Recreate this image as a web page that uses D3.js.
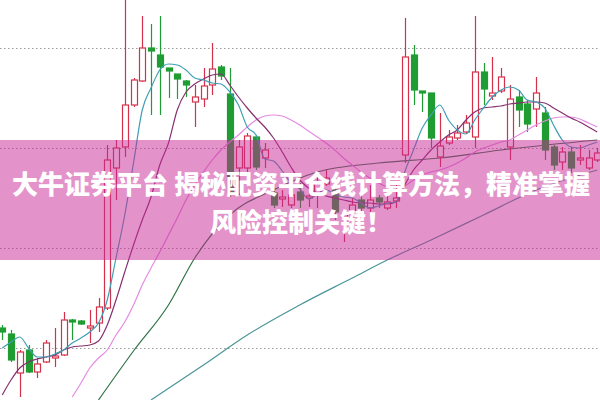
<!DOCTYPE html>
<html><head><meta charset="utf-8">
<script src="https://cdn.jsdelivr.net/npm/d3@7"></script>
<style>html,body{margin:0;padding:0;background:#fff;overflow:hidden}svg{display:block}</style>
</head><body><svg id="c" width="600" height="400"></svg>
<script>
const opens  = [3.20,3.14,2.75,2.98,2.76,2.86,2.90,2.93,3.28,3.27,3.20,3.25,3.40,4.80,5.01,5.43,5.67,6.00,5.93,5.80,5.74,5.67,5.46,5.49,5.63,5.81,5.54,4.80,4.80,5.11,4.90,4.55,4.49,4.43,4.56,4.50,4.53,4.64,4.58,4.31,4.36,4.48,4.40,4.50,4.40,4.47,4.93,5.93,5.57,5.55,4.91,5.05,5.10,5.16,5.11,5.76,5.52,5.57,5.01,5.51,5.44,5.39,5.35,5.01,4.86,4.96,4.88,4.80,4.88];
const closes = [3.16,2.88,2.96,2.76,2.84,3.05,2.92,3.28,3.26,3.24,3.22,3.41,4.88,5.00,5.43,5.68,6.00,5.97,5.81,5.77,5.69,5.63,5.51,5.62,5.79,5.72,4.55,5.01,5.12,4.81,4.98,4.43,4.51,4.53,4.48,4.52,4.65,4.70,4.36,4.34,4.43,4.40,4.48,4.46,4.46,4.50,5.91,5.58,5.55,5.10,5.02,5.11,5.15,5.25,5.76,5.59,5.55,5.71,5.49,5.38,5.24,5.55,4.98,4.83,4.96,4.80,4.90,4.90,4.95];
const highs  = [3.23,3.18,2.98,3.03,2.90,3.08,3.20,3.36,3.29,3.28,3.38,3.50,5.03,5.08,6.60,5.70,6.32,6.24,6.32,5.80,5.74,5.68,5.63,5.80,6.05,5.83,5.80,5.08,5.15,5.13,5.05,4.60,4.58,4.58,4.65,4.55,4.72,4.78,4.63,4.38,4.50,4.53,4.63,4.53,4.55,4.63,6.30,6.03,5.57,5.55,5.35,5.18,5.23,5.33,6.32,5.85,5.91,5.80,5.63,5.58,5.48,5.71,5.41,5.03,5.01,5.01,5.03,4.98,5.00];
const lows   = [3.08,2.86,2.51,2.75,2.70,2.85,2.81,2.92,3.08,3.23,3.05,3.16,3.38,4.48,4.91,5.41,5.66,5.33,5.33,5.50,5.49,5.51,5.21,5.41,5.53,5.68,4.51,4.53,4.76,4.78,4.80,4.40,4.41,4.40,4.40,4.41,4.40,4.62,4.28,4.06,4.30,4.36,4.36,4.40,4.38,4.40,4.85,5.43,5.36,5.00,4.81,5.03,5.08,5.14,5.00,5.43,5.48,5.55,4.88,5.21,5.16,5.21,4.88,4.78,4.78,4.75,4.83,4.78,4.86];

const ma5  = [3.00,3.06,3.11,3.00,2.91,2.91,2.94,2.98,3.05,3.10,3.16,3.25,3.48,3.90,4.33,4.85,5.38,5.60,5.78,5.84,5.83,5.78,5.70,5.68,5.65,5.64,5.56,5.43,5.21,5.13,4.89,4.87,4.77,4.65,4.59,4.49,4.54,4.58,4.54,4.51,4.50,4.45,4.40,4.42,4.45,4.46,4.76,4.98,5.20,5.33,5.43,5.28,5.18,5.14,5.28,5.40,5.51,5.58,5.61,5.58,5.48,5.46,5.40,5.23,5.08,5.01,5.00,5.03,5.06];
const ma10 = [2.53,2.68,2.80,2.86,2.89,2.91,2.93,2.98,3.01,3.02,3.03,3.07,3.23,3.48,3.76,4.03,4.28,4.51,4.83,5.05,5.38,5.56,5.64,5.69,5.73,5.74,5.63,5.51,5.40,5.30,5.21,5.10,4.96,4.81,4.68,4.60,4.55,4.52,4.50,4.48,4.46,4.45,4.45,4.44,4.44,4.46,4.63,4.78,4.88,4.98,5.06,5.13,5.18,5.28,5.36,5.40,5.41,5.42,5.44,5.45,5.46,5.46,5.45,5.40,5.35,5.30,5.26,5.21,5.16];
const ma20 = [null,null,null,null,null,null,null,null,2.51,2.65,2.80,2.90,2.98,3.13,3.26,3.43,3.63,3.80,3.96,4.13,4.30,4.48,4.63,4.76,4.88,4.98,5.06,5.13,5.21,5.28,5.32,5.33,5.32,5.28,5.23,5.17,5.11,5.05,4.98,4.90,4.83,4.76,4.70,4.65,4.61,4.58,4.62,4.68,4.73,4.76,4.78,4.81,4.85,4.90,4.96,5.00,5.03,5.06,5.08,5.13,5.18,5.23,5.27,5.30,5.31,5.31,5.29,5.25,5.21];
const ma60  = [[11,2.48],[15,2.97],[19,3.43],[22,3.90],[26,4.33],[31,4.58],[36,4.76],[43,4.85],[50,4.90],[57,4.98],[68,5.08]];
const ma120 = [[17,2.48],[23,2.83],[28,3.13],[34,3.43],[40,3.70],[44,3.88],[49,4.08],[55,4.33],[61,4.58],[68,4.78]];
const gridValues = [3, 4, 5, 6];
const titleLines = ["大牛证券平台 揭秘配资平仓线计算方法，精准掌握", "风险控制关键！"];

const W = 600, H = 400;
const svg = d3.select("#c");
const idx = d3.range(opens.length);
const x = d3.scalePoint().domain(idx).range([2.25, 597.25]);
const y = d3.scaleLinear().domain([2.48, 6.48]).range([H, 0]);
const bodyW = 6;
const RED = "#d5304a", GREEN = "#1f9d33";

svg.append("defs").append("clipPath").attr("id","clip").append("rect").attr("width",W).attr("height",H);
const g = svg.append("g").attr("clip-path","url(#clip)");

// grid
g.selectAll("line.grid").data(gridValues).join("line")
  .attr("x1",0).attr("x2",W).attr("y1",d=>Math.round(y(d))+0.5).attr("y2",d=>Math.round(y(d))+0.5)
  .attr("stroke","#9a9a9a").attr("stroke-width",1).attr("stroke-dasharray","1.5,2.5");

// long MAs
const sparse = d3.line().x(d=>x(d[0])).y(d=>y(d[1])).curve(d3.curveMonotoneX);
g.append("path").attr("d",sparse(ma120)).attr("fill","none").attr("stroke","#4b9598").attr("stroke-width",1.2);
g.append("path").attr("d",sparse(ma60)).attr("fill","none").attr("stroke","#2f7445").attr("stroke-width",1.2);

// candles
const c = g.selectAll("g.candle").data(idx).join("g");
c.append("line")
  .attr("x1",i=>Math.round(x(i))+0.5).attr("x2",i=>Math.round(x(i))+0.5)
  .attr("y1",i=>y(highs[i])).attr("y2",i=>y(lows[i]))
  .attr("stroke",i=>closes[i]>=opens[i]?RED:GREEN).attr("stroke-width",1.2);
c.append("rect")
  .attr("x",i=>Math.round(x(i))+0.5-bodyW/2).attr("width",bodyW)
  .attr("y",i=>y(Math.max(opens[i],closes[i])))
  .attr("height",i=>Math.max(1,Math.abs(y(opens[i])-y(closes[i]))))
  .attr("fill",i=>closes[i]>=opens[i]?"#fff":GREEN)
  .attr("stroke",i=>closes[i]>=opens[i]?RED:GREEN).attr("stroke-width",1.2);

// MA lines
const dense = d3.line().defined(d=>d!=null).x((d,i)=>x(i)).y(d=>y(d)).curve(d3.curveMonotoneX);
g.append("path").attr("d",dense(ma20)).attr("fill","none").attr("stroke","#e58be3").attr("stroke-width",1.2);
g.append("path").attr("d",dense(ma10)).attr("fill","none").attr("stroke","#86306f").attr("stroke-width",1.2);
g.append("path").attr("d",dense(ma5)).attr("fill","none").attr("stroke","#3f9fb3").attr("stroke-width",1.2);

// banner
svg.append("rect").attr("x",0).attr("y",140).attr("width",W).attr("height",120)
  .attr("fill","rgb(200,40,150)").attr("fill-opacity",0.5);
svg.selectAll("text.t").data(titleLines).join("text")
  .attr("x",301).attr("y",(d,i)=>194+i*38)
  .attr("text-anchor","middle").attr("fill","#fff")
  .attr("font-family","'Noto Sans CJK SC', sans-serif").attr("font-weight",900).attr("font-size",26)
  .text(d=>d);
</script></body></html>
